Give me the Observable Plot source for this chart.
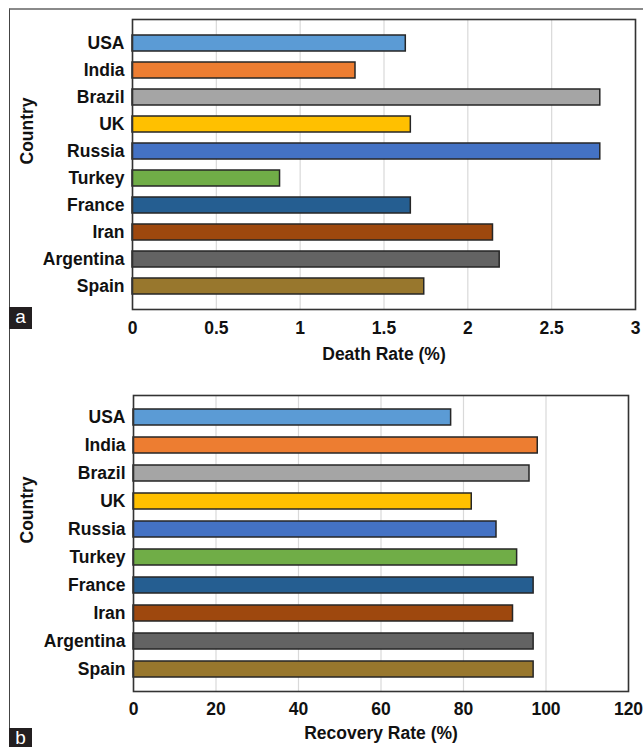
<!DOCTYPE html>
<html>
<head>
<meta charset="utf-8">
<script src="https://cdn.jsdelivr.net/npm/d3@7"></script>
<script src="https://cdn.jsdelivr.net/npm/@observablehq/plot@0.6"></script>
<style>
  html, body { margin: 0; padding: 0; background: #fff; }
  #wrap { position: relative; width: 643px; height: 747px; overflow: hidden; font-family: "Liberation Sans", Arial, sans-serif; }
  #outer { position: absolute; left: 9px; top: 8px; width: 700px; height: 800px; border-top: 2px solid #8a8a8a; border-left: 1px solid #444; }
  .panel { position: absolute; left: 0; }
  .tag { position: absolute; left: 9px; width: 23px; height: 22px; background: #231f20; color: #fff; font-size: 19px; line-height: 20px; text-align: center; font-family: "Liberation Sans", Arial, sans-serif; }
</style>
</head>
<body>
<div id="wrap">
  <div id="outer"></div>
  <div id="p1" class="panel" style="top:0px"></div>
  <div id="p2" class="panel" style="top:370px"></div>
  <div class="tag" style="top:307px">a</div>
  <div class="tag" style="top:728px">b</div>
</div>
<script>
const countries = ["USA", "India", "Brazil", "UK", "Russia", "Turkey", "France", "Iran", "Argentina", "Spain"];
const deathRate = [1.63, 1.33, 2.79, 1.66, 2.79, 0.88, 1.66, 2.15, 2.19, 1.74];
const recoveryRate = [77, 98, 96, 82, 88, 93, 97, 92, 97, 97];
const barColors = ["#5b9bd5", "#ed7d31", "#a5a5a5", "#ffc000", "#4472c4", "#70ad47", "#255e91", "#9e480e", "#636363", "#98772d"];
const deathTicks = [0, 0.5, 1, 1.5, 2, 2.5, 3];
const recoveryTicks = [0, 20, 40, 60, 80, 100, 120];

const font = "Liberation Sans, Arial, sans-serif";

function panel(values, ticks, domainMax, xLabel, opts) {
  const data = countries.map((c, i) => ({country: c, value: values[i], color: barColors[i]}));
  return Plot.plot({
    width: 643,
    height: opts.height,
    marginLeft: opts.left,
    marginRight: opts.right,
    marginTop: opts.top,
    marginBottom: opts.bottom,
    style: {fontFamily: font, fontSize: "17px", fontWeight: "bold", color: "#111", background: "transparent"},
    x: {domain: [0, domainMax], ticks: ticks, tickFormat: d => String(d)},
    y: {domain: countries, padding: 0.42},
    color: {type: "identity"},
    marks: [
      Plot.gridX(ticks, {stroke: "#d9d9d9", strokeOpacity: 1, strokeWidth: 1.2}),
      Plot.barX(data, {x: "value", y: "country", fill: "color", stroke: "#262626", strokeWidth: 1.5}),
      Plot.frame({stroke: "#333", strokeWidth: 1.6}),
      Plot.axisX({ticks: ticks, tickFormat: d => String(d), tickSize: 0, tickPadding: opts.tickPad, label: null, fontSize: 17.5, fontWeight: "bold"}),
      Plot.axisY({tickSize: 0, tickPadding: 8, label: null, fontSize: 17.5, fontWeight: "bold"}),
      Plot.text([xLabel], {frameAnchor: "bottom", lineAnchor: "middle", dy: opts.xlabDy, fontSize: 17.5, fontWeight: "bold", fill: "#111"}),
      Plot.text(["Country"], {frameAnchor: "left", dx: opts.ylabDx, rotate: -90, fontSize: 17.5, fontWeight: "bold", fill: "#111"})
    ]
  });
}

document.getElementById("p1").appendChild(
  panel(deathRate, deathTicks, 3, "Death Rate (%)", {height: 370, left: 132, right: 8, top: 19, bottom: 61, tickPad: 12, xlabDy: 45, ylabDx: -105})
);
document.getElementById("p2").appendChild(
  panel(recoveryRate, recoveryTicks, 120, "Recovery Rate (%)", {height: 377, left: 133, right: 15, top: 25, bottom: 56, tickPad: 11, xlabDy: 42, ylabDx: -106})
);
</script>
</body>
</html>
